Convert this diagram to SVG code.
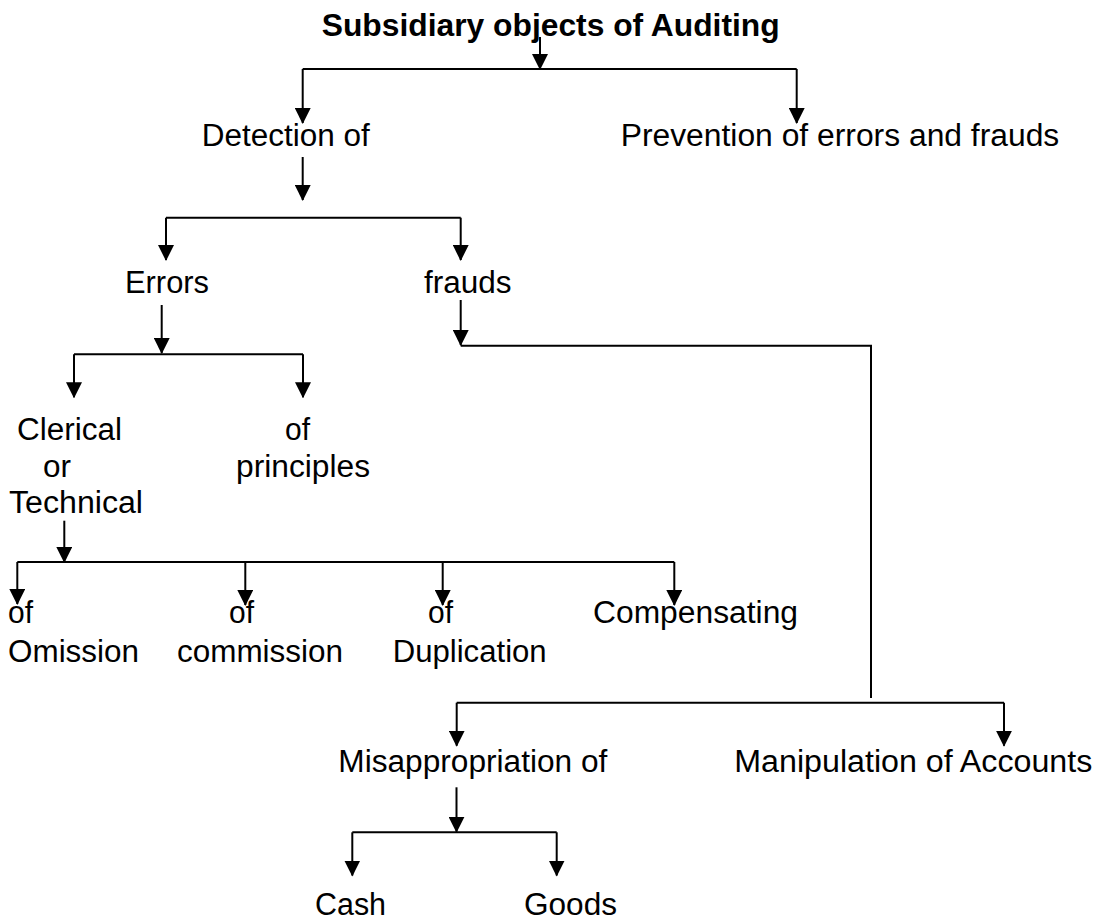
<svg xmlns="http://www.w3.org/2000/svg" width="1103" height="921" viewBox="0 0 1103 921">
<style>
.t{font-family:"Liberation Sans",Arial,sans-serif;font-size:31px;fill:#000}
.b{font-weight:bold;font-size:32px}
.c{stroke:#000;stroke-width:2;fill:none}
.a{marker-end:url(#ah)}
</style>
<defs>
<marker id="ah" viewBox="0 0 16 16" refX="15" refY="8" markerUnits="userSpaceOnUse" markerWidth="16" markerHeight="16" orient="auto">
<path d="M0,0 L16,8 L0,16 z" fill="#000"/>
</marker>
</defs>
<rect width="1103" height="921" fill="#fff"/>
<g id="connectors">
<path class="c a" d="M540,37 V69"/>
<path class="c" d="M302.7,69 H796.7"/>
<path class="c a" d="M302.7,69 V123"/>
<path class="c a" d="M796.7,69 V123"/>
<path class="c a" d="M302.7,157 V200"/>
<path class="c" d="M166,217.7 H460.7"/>
<path class="c a" d="M166,217.7 V260"/>
<path class="c a" d="M460.7,217.7 V260"/>
<path class="c a" d="M161.7,305 V353"/>
<path class="c" d="M74,354.3 H303"/>
<path class="c a" d="M74,354.3 V397.3"/>
<path class="c a" d="M303,354.3 V397.3"/>
<path class="c a" d="M460.7,300 V345"/>
<path class="c" d="M460.7,345.7 H871 V698"/>
<path class="c a" d="M64.3,520.7 V562"/>
<path class="c" d="M17.3,562 H674.3"/>
<path class="c a" d="M17.3,562 V604"/>
<path class="c a" d="M245.3,562 V605"/>
<path class="c a" d="M442.7,562 V605"/>
<path class="c a" d="M674.3,562 V605"/>
<path class="c" d="M456.7,702.7 H1004"/>
<path class="c a" d="M456.7,702.7 V745.7"/>
<path class="c a" d="M1004,702.7 V745.7"/>
<path class="c a" d="M456.5,787.3 V831.7"/>
<path class="c" d="M352.3,832.3 H556.7"/>
<path class="c a" d="M352.3,832.3 V875.5"/>
<path class="c a" d="M556.7,832.3 V875.5"/>
</g>
<g id="title"><text class="t b" x="321.7" y="36" textLength="458" lengthAdjust="spacingAndGlyphs">Subsidiary objects of Auditing</text></g>
<g id="detection"><text class="t" x="201.7" y="146" textLength="168" lengthAdjust="spacingAndGlyphs">Detection of</text></g>
<g id="prevention"><text class="t" x="620.7" y="146" textLength="438.6" lengthAdjust="spacingAndGlyphs">Prevention of errors and frauds</text></g>
<g id="errors"><text class="t" x="125" y="293" textLength="84" lengthAdjust="spacingAndGlyphs">Errors</text></g>
<g id="frauds"><text class="t" x="424" y="293" textLength="87.6" lengthAdjust="spacingAndGlyphs">frauds</text></g>
<g id="clerical">
<text class="t" x="17" y="440" textLength="105" lengthAdjust="spacingAndGlyphs">Clerical</text>
<text class="t" x="43" y="476.7" textLength="28" lengthAdjust="spacingAndGlyphs">or</text>
<text class="t" x="9" y="513" textLength="134" lengthAdjust="spacingAndGlyphs">Technical</text>
</g>
<g id="principles">
<text class="t" x="285" y="440" textLength="25" lengthAdjust="spacingAndGlyphs">of</text>
<text class="t" x="236" y="476.7" textLength="134" lengthAdjust="spacingAndGlyphs">principles</text>
</g>
<g id="omission">
<text class="t" x="8" y="623" textLength="25" lengthAdjust="spacingAndGlyphs">of</text>
<text class="t" x="8" y="662" textLength="131" lengthAdjust="spacingAndGlyphs">Omission</text>
</g>
<g id="commission">
<text class="t" x="229" y="623" textLength="25" lengthAdjust="spacingAndGlyphs">of</text>
<text class="t" x="177" y="662" textLength="166" lengthAdjust="spacingAndGlyphs">commission</text>
</g>
<g id="duplication">
<text class="t" x="428" y="623" textLength="25" lengthAdjust="spacingAndGlyphs">of</text>
<text class="t" x="392.7" y="662" textLength="154" lengthAdjust="spacingAndGlyphs">Duplication</text>
</g>
<g id="compensating"><text class="t" x="593" y="623" textLength="205" lengthAdjust="spacingAndGlyphs">Compensating</text></g>
<g id="misappropriation"><text class="t" x="338.3" y="771.7" textLength="269" lengthAdjust="spacingAndGlyphs">Misappropriation of</text></g>
<g id="manipulation"><text class="t" x="734.3" y="771.7" textLength="358" lengthAdjust="spacingAndGlyphs">Manipulation of Accounts</text></g>
<g id="cash"><text class="t" x="315" y="915" textLength="71" lengthAdjust="spacingAndGlyphs">Cash</text></g>
<g id="goods"><text class="t" x="524" y="915" textLength="93" lengthAdjust="spacingAndGlyphs">Goods</text></g>
</svg>
